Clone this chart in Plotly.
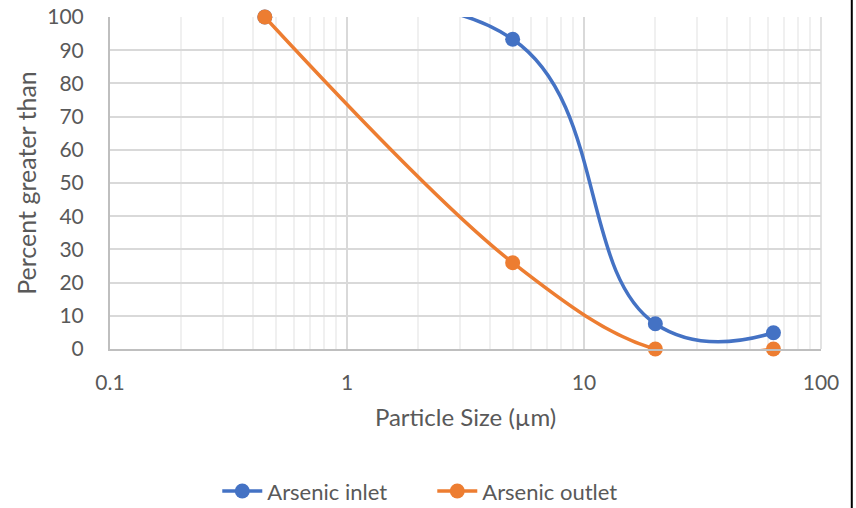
import plotly.graph_objects as go

# Particle size distribution (µm) and cumulative percent greater than
particle_size = [0.45, 5, 20, 63]
arsenic_inlet = [100, 93.3, 7.6, 4.9]
arsenic_outlet = [100, 26, 0, 0]

x_tick_vals = [0.1, 1, 10, 100]
x_tick_text = ["0.1", "1", "10", "100"]
y_tick_vals = list(range(0, 101, 10))

FONT = "Lato"
TEXT = "#595959"
BLUE = "#4472C4"
ORANGE = "#ED7D31"

fig = go.Figure()
fig.add_trace(go.Scatter(
    x=particle_size, y=arsenic_inlet, name="Arsenic inlet",
    mode="lines+markers", cliponaxis=False,
    line=dict(color=BLUE, width=3.5, shape="spline", smoothing=1.3),
    marker=dict(color=BLUE, size=15),
))
fig.add_trace(go.Scatter(
    x=particle_size, y=arsenic_outlet, name="Arsenic outlet",
    mode="lines+markers", cliponaxis=False,
    line=dict(color=ORANGE, width=3.5, shape="spline", smoothing=1),
    marker=dict(color=ORANGE, size=15),
))

fig.update_layout(
    width=856, height=508,
    margin=dict(l=110, r=35, t=17, b=159),
    plot_bgcolor="white", paper_bgcolor="white",
    font=dict(family=FONT, size=21, color=TEXT),
    showlegend=True,
    legend=dict(
        orientation="h", xref="container", x=0.505, xanchor="center",
        yref="container", y=0.033, yanchor="middle",
        font=dict(family=FONT, size=22, color=TEXT),
        itemwidth=40, entrywidth=160, traceorder="normal",
    ),
    xaxis=dict(
        type="log", range=[-1, 2], automargin=False,
        tickvals=x_tick_vals, ticktext=x_tick_text,
        tickfont=dict(family=FONT, size=21, color=TEXT),
        showgrid=True, gridcolor="#d9d9d9", gridwidth=1.5,
        minor=dict(dtick="D1", showgrid=True, gridcolor="#f0f0f0", gridwidth=1.5),
        showline=True, linecolor="#bfbfbf", linewidth=2,
        ticks="", ticklabelstandoff=14,
        zeroline=False,
        title=dict(text="Particle Size (µm)", standoff=16,
                   font=dict(family=FONT, size=24, color=TEXT)),
    ),
    yaxis=dict(
        range=[0, 100], tickvals=y_tick_vals, automargin=False,
        tickfont=dict(family=FONT, size=21, color=TEXT),
        showgrid=True, gridcolor="#d9d9d9", gridwidth=1.5,
        showline=True, linecolor="#bfbfbf", linewidth=2,
        ticks="", ticklabelstandoff=20,
        zeroline=False,
        title=dict(text="Percent greater than", standoff=4,
                   font=dict(family=FONT, size=25, color=TEXT)),
    ),
    shapes=[
        # right-hand border of the plot area
        dict(type="line", xref="paper", yref="paper", x0=1, x1=1, y0=0, y1=1,
             line=dict(color="#d9d9d9", width=1.5), layer="below"),
        # outer frame edge
        dict(type="line", xref="paper", yref="paper", x0=1.0433, x1=1.0433,
             y0=-0.6, y1=1.1, line=dict(color="black", width=2)),
    ],
)

fig.write_html("out.html")
